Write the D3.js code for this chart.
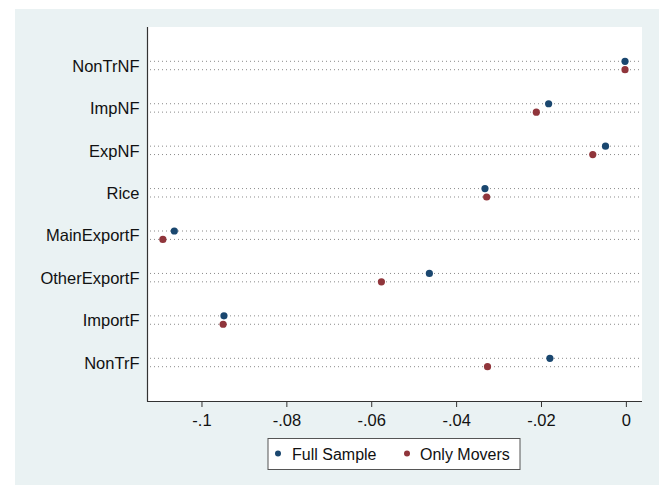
<!DOCTYPE html>
<html>
<head>
<meta charset="utf-8">
<script src="https://cdn.jsdelivr.net/npm/d3@7"></script>
<style>
  html, body { margin: 0; padding: 0; background: #ffffff; }
  svg { display: block; }
  text { font-family: "Liberation Sans", Arial, sans-serif; fill: #111; }
</style>
</head>
<body>
<svg id="chart" width="659" height="485"></svg>
<script>
const categories = ["NonTrNF", "ImpNF", "ExpNF", "Rice", "MainExportF", "OtherExportF", "ImportF", "NonTrF"];
const seriesNames = ["Full Sample", "Only Movers"];
const fullSample  = [-0.0002, -0.0182, -0.0048, -0.0332, -0.1064, -0.0463, -0.0947, -0.0179];
const onlyMovers  = [-0.0002, -0.0211, -0.0078, -0.0328, -0.1091, -0.0576, -0.0949, -0.0326];
const xTicks = [-0.1, -0.08, -0.06, -0.04, -0.02, 0];
const xTickLabels = ["-.1", "-.08", "-.06", "-.04", "-.02", "0"];
const colors = ["#1a476f", "#90353b"];

const svg = d3.select("#chart");

// background
svg.append("rect").attr("x", 15).attr("y", 9).attr("width", 644).attr("height", 476).attr("fill", "#eaf2f3");

const plot = { left: 148, right: 642, top: 27, bottom: 401 };
svg.append("rect").attr("x", plot.left).attr("y", plot.top)
  .attr("width", plot.right - plot.left).attr("height", plot.bottom - plot.top).attr("fill", "#ffffff");

const x = d3.scaleLinear().domain([-0.1126, 0.0038]).range([plot.left, plot.right]);
const y = d3.scalePoint().domain(categories).range([65.5, 362.5]);
const inner = d3.scalePoint().domain(seriesNames).range([-4.2, 4.2]);

const data = [];
categories.forEach((c, i) => {
  data.push({ cat: c, s: seriesNames[0], v: fullSample[i], col: colors[0] });
  data.push({ cat: c, s: seriesNames[1], v: onlyMovers[i], col: colors[1] });
});

// dotted lines
svg.append("g").selectAll("line").data(data).join("line")
  .attr("x1", plot.left + 2).attr("x2", plot.right)
  .attr("y1", d => y(d.cat) + inner(d.s))
  .attr("y2", d => y(d.cat) + inner(d.s))
  .attr("stroke", "#8a8a8a").attr("stroke-width", 1)
  .attr("stroke-dasharray", "1 3");

// points
svg.append("g").selectAll("circle").data(data).join("circle")
  .attr("cx", d => x(d.v))
  .attr("cy", d => y(d.cat) + inner(d.s))
  .attr("r", 3.6)
  .attr("fill", d => d.col);

// category labels
svg.append("g").selectAll("text").data(categories).join("text")
  .attr("x", 139.5).attr("y", d => y(d) + 6.2)
  .attr("text-anchor", "end").attr("font-size", 16.5)
  .text(d => d);

// axes lines
svg.append("line").attr("x1", plot.left - 0.5).attr("x2", plot.left - 0.5)
  .attr("y1", plot.top).attr("y2", plot.bottom + 0.5)
  .attr("stroke", "#333").attr("stroke-width", 1.2);

const xAxis = d3.axisBottom(x).tickValues(xTicks)
  .tickFormat((d, i) => xTickLabels[i]).tickSize(6).tickPadding(6).tickSizeOuter(0);
const gx = svg.append("g").attr("transform", `translate(0,${plot.bottom})`).call(xAxis);
gx.select(".domain").attr("d", `M${plot.left - 1},0.5H${plot.right}`).attr("stroke", "#333").attr("stroke-width", 1.2);
gx.selectAll(".tick line").attr("stroke", "#333");
gx.selectAll(".tick text").attr("font-size", 16.5)
  .attr("font-family", '"Liberation Sans", Arial, sans-serif').attr("fill", "#111")
  .attr("dy", null).attr("y", 25);

// legend
const lg = svg.append("g");
lg.append("rect").attr("x", 268).attr("y", 438.5).attr("width", 252).attr("height", 31)
  .attr("fill", "#ffffff").attr("stroke", "#555").attr("stroke-width", 1);
const legendItems = [
  { name: seriesNames[0], col: colors[0], mx: 278, tx: 292 },
  { name: seriesNames[1], col: colors[1], mx: 407, tx: 420 }
];
lg.selectAll("circle").data(legendItems).join("circle")
  .attr("cx", d => d.mx).attr("cy", 453.5).attr("r", 3).attr("fill", d => d.col);
lg.selectAll("text").data(legendItems).join("text")
  .attr("x", d => d.tx).attr("y", 459.5).attr("font-size", 16).text(d => d.name);
</script>
</body>
</html>
